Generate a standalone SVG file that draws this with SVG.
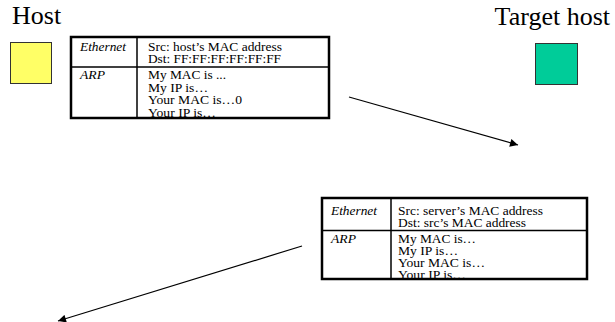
<svg xmlns="http://www.w3.org/2000/svg" width="615" height="322" viewBox="0 0 615 322">
<style>
  .title{font-family:"Liberation Serif","Times New Roman",serif;font-size:26px;fill:#000}
  .t{font-family:"Liberation Serif","Times New Roman",serif;font-size:11.6px;fill:#000}
  .i{font-style:italic}
  .outer{fill:#fff;stroke:#000;stroke-width:2.5}
  .inner{stroke:#000;stroke-width:1.5;fill:none}
  .sq{stroke:#333;stroke-width:1}
  .conn{stroke:#000;stroke-width:1.2;fill:none;marker-end:url(#ah)}
</style>
<defs>
  <marker id="ah" viewBox="0 0 10 10" refX="10" refY="5" markerWidth="10" markerHeight="8" markerUnits="userSpaceOnUse" orient="auto">
    <path d="M0,0 L10,5 L0,10 z" fill="#000"/>
  </marker>
  <clipPath id="c1"><rect x="71" y="37" width="258" height="80"/></clipPath>
  <clipPath id="c2"><rect x="322" y="198" width="265" height="80"/></clipPath>
</defs>
<g id="host">
  <text class="title" x="12" y="24">Host</text>
  <rect class="sq" x="10.5" y="42.5" width="41" height="41" fill="#FFFF66"/>
</g>
<g id="target-host">
  <text class="title" x="610" y="25" text-anchor="end">Target host</text>
  <rect class="sq" x="535.5" y="43.5" width="42" height="41" fill="#00CC99"/>
</g>
<g id="arp-request">
  <rect class="outer" x="71" y="37" width="258" height="81"/>
  <line class="inner" x1="137" y1="37" x2="137" y2="118"/>
  <line class="inner" x1="71" y1="67" x2="329" y2="67"/>
  <g clip-path="url(#c1)">
    <text class="t i" x="80" y="50.5" textLength="46" lengthAdjust="spacingAndGlyphs">Ethernet</text>
    <text class="t" x="148" y="50.5" textLength="134" lengthAdjust="spacingAndGlyphs">Src: host’s MAC address</text>
    <text class="t" x="148" y="63" textLength="133" lengthAdjust="spacingAndGlyphs">Dst: FF:FF:FF:FF:FF:FF</text>
    <text class="t i" x="80" y="79" textLength="25" lengthAdjust="spacingAndGlyphs">ARP</text>
    <text class="t" x="148" y="79" textLength="78" lengthAdjust="spacingAndGlyphs">My MAC is ...</text>
    <text class="t" x="148" y="91.5" textLength="60" lengthAdjust="spacingAndGlyphs">My IP is…</text>
    <text class="t" x="148" y="104" textLength="94" lengthAdjust="spacingAndGlyphs">Your MAC is…0</text>
    <text class="t" x="148" y="116.5" textLength="68" lengthAdjust="spacingAndGlyphs">Your IP is…</text>
  </g>
</g>
<g id="arp-reply">
  <rect class="outer" x="322" y="198" width="265" height="81"/>
  <line class="inner" x1="391" y1="198" x2="391" y2="279"/>
  <line class="inner" x1="322" y1="230.5" x2="587" y2="230.5"/>
  <g clip-path="url(#c2)">
    <text class="t i" x="331" y="214.5" textLength="46" lengthAdjust="spacingAndGlyphs">Ethernet</text>
    <text class="t" x="398" y="214.5" textLength="145" lengthAdjust="spacingAndGlyphs">Src: server’s MAC address</text>
    <text class="t" x="398" y="227" textLength="128" lengthAdjust="spacingAndGlyphs">Dst: src’s MAC address</text>
    <text class="t i" x="331" y="243" textLength="25" lengthAdjust="spacingAndGlyphs">ARP</text>
    <text class="t" x="398" y="243" textLength="78" lengthAdjust="spacingAndGlyphs">My MAC is…</text>
    <text class="t" x="398" y="255" textLength="60" lengthAdjust="spacingAndGlyphs">My IP is…</text>
    <text class="t" x="398" y="267" textLength="87" lengthAdjust="spacingAndGlyphs">Your MAC is…</text>
    <text class="t" x="398" y="279" textLength="68" lengthAdjust="spacingAndGlyphs">Your IP is…</text>
  </g>
</g>
<g id="connectors">
  <line class="conn" x1="349" y1="97" x2="518" y2="145"/>
  <line class="conn" x1="302" y1="246" x2="58" y2="321"/>
</g>
</svg>
